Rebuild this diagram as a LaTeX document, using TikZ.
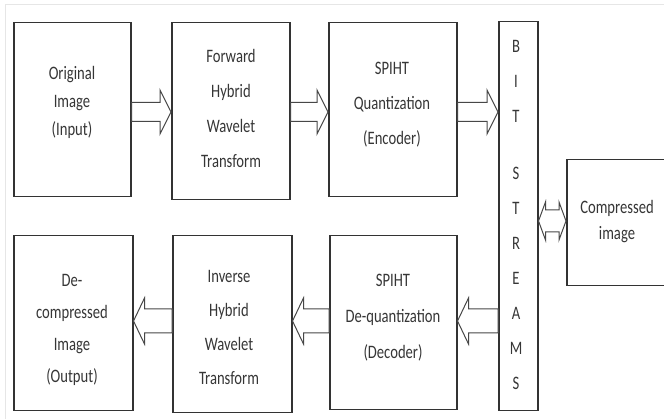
\documentclass[tikz,border=0pt]{standalone}
\usepackage{fontspec}
\setmainfont{Carlito}[FakeStretch=0.77]
\usetikzlibrary{calc}
\definecolor{ink}{HTML}{363636}
\definecolor{edge}{HTML}{333333}
\definecolor{frame}{HTML}{E6E6E6}

% open block arrows between two named points on a common horizontal line
\newcommand{\arrowright}[2]{%
  \draw[blockarrow] let \p1=(#1), \p2=(#2) in
    (\x1,\y1+\ashaft) -- (\x2-\ahead,\y1+\ashaft) -- (\x2-\ahead,\y1+\awing) --
    (\x2,\y1) -- (\x2-\ahead,\y1-\awing) -- (\x2-\ahead,\y1-\ashaft) --
    (\x1,\y1-\ashaft) -- cycle;}
\newcommand{\arrowleft}[2]{%
  \draw[blockarrow] let \p1=(#1), \p2=(#2) in
    (\x1,\y1+\ashaft) -- (\x2+\ahead,\y1+\ashaft) -- (\x2+\ahead,\y1+\awing) --
    (\x2,\y1) -- (\x2+\ahead,\y1-\awing) -- (\x2+\ahead,\y1-\ashaft) --
    (\x1,\y1-\ashaft) -- cycle;}
\newcommand{\arrowboth}[2]{%
  \draw[blockarrow] let \p1=(#1), \p2=(#2) in
    (\x1,\y1) -- (\x1+\ahead,\y1+\awing) -- (\x1+\ahead,\y1+\ashaft) --
    (\x2-\ahead,\y1+\ashaft) -- (\x2-\ahead,\y1+\awing) -- (\x2,\y1) --
    (\x2-\ahead,\y1-\awing) -- (\x2-\ahead,\y1-\ashaft) --
    (\x1+\ahead,\y1-\ashaft) -- (\x1+\ahead,\y1-\awing) -- cycle;}
\newlength{\ashaft}\newlength{\awing}\newlength{\ahead}

\begin{document}
\begin{tikzpicture}[x=1pt,y=-1pt,
  block/.style={draw=edge, line width=1.5pt, fill=white, anchor=north west,
                inner sep=0pt},
  lbl/.style={align=center, text=ink, inner sep=0pt},
  blockarrow/.style={draw=edge!90, line width=1pt, fill=white, line join=miter}]

\clip (0,0) rectangle (664,419);
\fill[white] (0,0) rectangle (664,419);
\draw[frame, line width=1pt] (5,419) -- (5,5) -- (664,5);

% upper row: encoder side
\node[block, minimum width=117pt, minimum height=174pt] (orig) at (13,22) {};
\node[block, minimum width=118pt, minimum height=177pt] (fwd)  at (171,22) {};
\node[block, minimum width=128pt, minimum height=174pt] (enc)  at (328,22) {};

% bit stream column
\node[block, minimum width=39pt, minimum height=389pt] (bits) at (498,21) {};

% compressed image store (runs past the right margin)
\node[block, minimum width=110pt, minimum height=126pt] (comp) at (566,159) {};

% lower row: decoder side
\node[block, minimum width=119pt, minimum height=175pt] (out) at (13,235) {};
\node[block, minimum width=119pt, minimum height=177pt] (inv) at (172,235) {};
\node[block, minimum width=127pt, minimum height=174pt] (dec) at (329,235) {};

% labels
\node[lbl, font=\fontsize{19}{28}\selectfont] (torig) at (72,102)
  {Original\\Image\\(Input)};
\node[lbl, font=\fontsize{19}{35}\selectfont] (tfwd) at (231,108)
  {Forward\\Hybrid\\Wavelet\\Transform};
\node[lbl, font=\fontsize{19}{35}\selectfont] (tenc) at (392,105)
  {SPIHT\\Quantization\\(Encoder)};
\node[lbl, font=\fontsize{19}{32}\selectfont] (tout) at (72,330)
  {De-\\compressed\\Image\\(Output)};
\node[lbl, font=\fontsize{19}{34}\selectfont] (tinv) at (229,327)
  {Inverse\\Hybrid\\Wavelet\\Transform};
\node[lbl, font=\fontsize{19}{36}\selectfont] (tdec) at (393,318)
  {SPIHT\\De-quantization\\(Decoder)};
\node[lbl, font=\fontsize{19}{26}\selectfont] (tcomp) at (617,222)
  {Compressed\\image};
\node[lbl, font=\fontsize{19}{35}\selectfont] (tbits) at (516,215)
  {B\\I\\T\\[22pt]S\\T\\R\\E\\A\\M\\S};

% arrow axes
\coordinate (top) at (0,112);
\coordinate (bot) at (0,321);
\coordinate (mid) at (0,221);

\setlength{\ashaft}{9.5pt}\setlength{\awing}{22pt}\setlength{\ahead}{11pt}
\arrowright{orig.east |- top}{fwd.west |- top}
\arrowright{fwd.east |- top}{enc.west |- top}
\arrowright{enc.east |- top}{bits.west |- top}

\setlength{\ashaft}{12pt}\setlength{\awing}{23pt}\setlength{\ahead}{11pt}
\arrowleft{bits.west |- bot}{dec.east |- bot}
\arrowleft{inv.west |- bot}{out.east |- bot}
\arrowleft{dec.west |- bot}{inv.east |- bot}

\setlength{\ashaft}{11pt}\setlength{\awing}{19pt}\setlength{\ahead}{7pt}
\arrowboth{bits.east |- mid}{comp.west |- mid}
\end{tikzpicture}
\end{document}
